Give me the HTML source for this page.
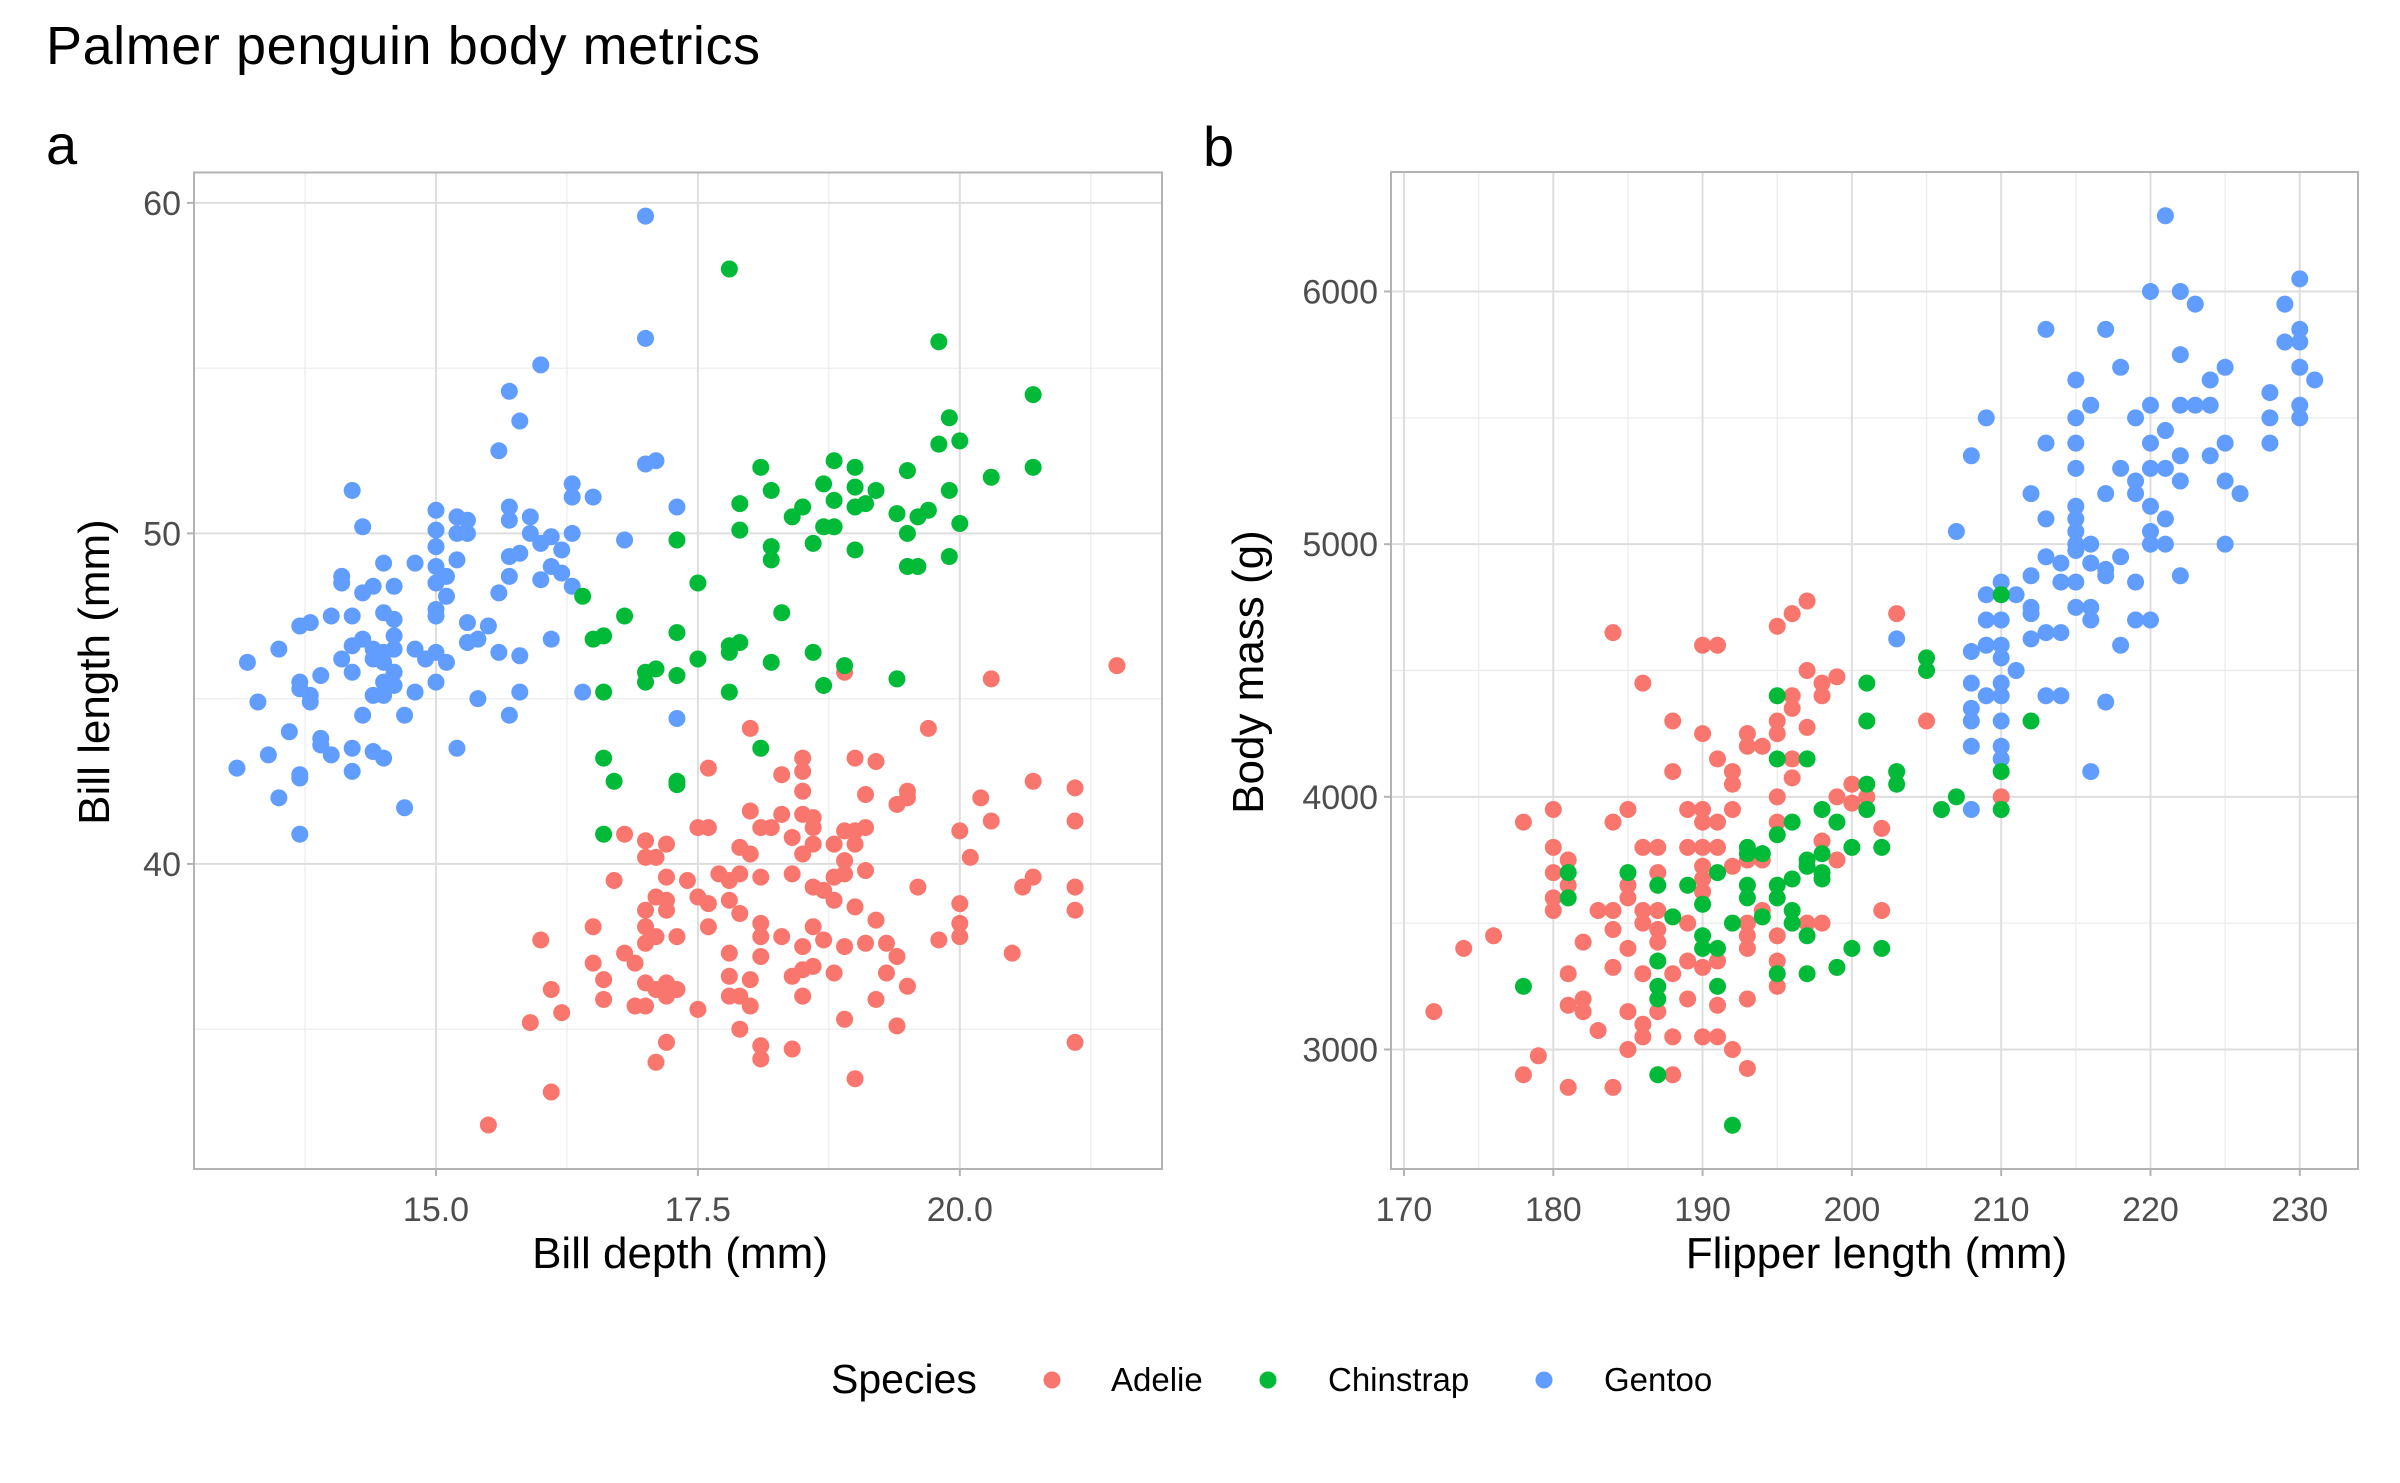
<!DOCTYPE html>
<html><head><meta charset="utf-8"><title>Palmer penguin body metrics</title>
<style>html,body{margin:0;padding:0;background:#fff}svg{display:block}text{font-family:"Liberation Sans",Arial,sans-serif}</style>
</head><body>
<svg id="chart" width="2400" height="1483" viewBox="0 0 2400 1483" xmlns="http://www.w3.org/2000/svg">
<rect width="2400" height="1483" fill="#fff"/>
<text x="46" y="64" font-size="54" textLength="714" fill="#000">Palmer penguin body metrics</text>
<text x="46" y="164" font-size="56" fill="#000">a</text>
<text x="1203" y="166" font-size="56" fill="#000">b</text>
<g id="pa"></g>
<g id="pb"></g>
<g>
<text x="831" y="1393" font-size="41" fill="#000">Species</text>
<circle cx="1052" cy="1380" r="8.5" fill="#F8766D"/>
<text x="1111" y="1391" font-size="33" fill="#000">Adelie</text>
<circle cx="1268" cy="1380" r="8.5" fill="#00BA38"/>
<text x="1328" y="1391" font-size="33" fill="#000">Chinstrap</text>
<circle cx="1544" cy="1380" r="8.5" fill="#619CFF"/>
<text x="1604" y="1391" font-size="33" fill="#000">Gentoo</text>
</g>
</svg>
<script>
// ---- data: panel a (bill depth, bill length) ----
const adelieDepth = [21.5,20.3,18.9,19.7,18.0,17.6,18.5,18.5,18.3,19.0,19.2,20.7,21.1,18.5,19.1,19.5,19.5,19.4,20.2,18.0,18.3,18.5,18.6,17.5,17.6,18.1,18.2,18.6,18.9,19.1,19.0,20.3,21.1,20.0,18.4,18.8,19.0,18.6,16.8,17.0,17.2,17.9,18.0,17.0,17.1,18.5,18.9,20.1,19.1,17.7,17.8,17.9,18.1,18.4,18.8,18.9,17.2,17.4,16.7,20.7,20.6,18.6,18.7,19.6,21.1,17.5,17.6,17.8,17.1,17.2,18.8,19.0,20.0,21.1,17.0,17.2,17.9,19.2,16.5,17.0,17.6,18.1,18.6,20.0,17.1,17.3,18.1,18.3,18.7,16.0,19.8,20.0,17.0,18.5,18.9,19.1,19.3,16.8,17.8,18.1,19.4,20.5,16.5,16.9,18.6,18.5,16.6,17.8,18.0,18.4,18.8,19.3,17.0,17.2,17.1,17.3,17.2,19.5,16.1,16.6,17.8,17.9,18.5,19.2,16.9,17.0,17.5,18.0,16.2,15.9,18.9,19.4,17.9,17.2,18.1,18.4,21.1,17.1,18.1,19.0,16.1,15.5];
const adelieLength = [46.0,45.6,45.8,44.1,44.1,42.9,43.2,42.8,42.7,43.2,43.1,42.5,42.3,42.2,42.1,42.2,42.0,41.8,42.0,41.6,41.5,41.5,41.4,41.1,41.1,41.1,41.1,41.1,41.0,41.1,41.0,41.3,41.3,41.0,40.8,40.6,40.6,40.6,40.9,40.7,40.6,40.5,40.3,40.2,40.2,40.3,40.1,40.2,39.8,39.7,39.5,39.7,39.6,39.7,39.6,39.7,39.6,39.5,39.5,39.6,39.3,39.3,39.2,39.3,39.3,39.0,38.8,38.9,39.0,38.9,38.9,38.7,38.8,38.6,38.6,38.6,38.5,38.3,38.1,38.1,38.1,38.2,38.1,38.2,37.8,37.8,37.8,37.8,37.7,37.7,37.7,37.8,37.6,37.5,37.5,37.6,37.6,37.3,37.3,37.2,37.2,37.3,37.0,37.0,36.9,36.8,36.5,36.6,36.5,36.6,36.7,36.7,36.4,36.4,36.2,36.2,36.0,36.3,36.2,35.9,36.0,36.0,36.0,35.9,35.7,35.7,35.6,35.7,35.5,35.2,35.3,35.1,35.0,34.6,34.5,34.4,34.6,34.0,34.1,33.5,33.1,32.1];
const chinDepth = [17.8,19.8,20.7,19.9,20.0,19.8,18.1,18.8,19.0,19.5,20.7,20.3,18.2,18.7,19.0,19.2,19.9,17.9,18.5,18.8,19.0,19.1,18.4,19.4,19.6,19.7,17.9,18.7,18.8,19.5,20.0,17.3,18.6,18.2,18.2,19.0,19.5,19.6,19.9,17.5,16.4,18.3,16.8,17.3,16.5,16.6,17.9,17.8,17.8,18.6,17.5,18.2,18.9,18.7,17.1,17.0,17.0,17.3,19.4,16.6,17.8,18.1,16.6,16.7,17.3,17.3,16.6];
const chinLength = [58.0,55.8,54.2,53.5,52.8,52.7,52.0,52.2,52.0,51.9,52.0,51.7,51.3,51.5,51.4,51.3,51.3,50.9,50.8,51.0,50.8,50.9,50.5,50.6,50.5,50.7,50.1,50.2,50.2,50.0,50.3,49.8,49.7,49.6,49.2,49.5,49.0,49.0,49.3,48.5,48.1,47.6,47.5,47.0,46.8,46.9,46.7,46.6,46.4,46.4,46.2,46.1,46.0,45.4,45.9,45.8,45.5,45.7,45.6,45.2,45.2,43.5,43.2,42.5,42.5,42.4,40.9];
const gentooDepth = [17.0,17.0,16.0,15.7,15.8,15.6,17.0,17.1,14.2,16.3,16.3,16.5,15.0,15.2,15.3,15.7,15.7,15.9,14.3,15.0,15.2,15.3,17.3,16.3,15.9,16.1,16.0,16.2,16.8,15.0,15.2,15.7,15.8,14.5,14.8,15.0,16.1,16.2,14.1,14.1,15.1,15.7,16.0,16.3,14.4,14.3,14.6,15.1,15.0,15.6,15.0,15.0,13.7,13.8,14.0,14.2,14.5,14.6,15.3,15.5,16.1,15.4,15.3,13.5,14.3,14.2,14.4,14.5,14.4,14.5,14.6,14.6,14.8,14.9,15.0,15.1,15.6,15.8,13.2,14.1,13.9,13.7,13.7,13.8,13.8,14.2,14.6,14.5,14.6,14.4,14.5,15.0,14.8,15.8,15.4,13.3,16.4,14.3,14.7,15.7,17.3,13.6,13.9,13.9,14.0,13.4,14.2,14.4,14.5,15.2,13.1,14.2,13.7,13.7,13.5,14.7,13.7];
const gentooLength = [59.6,55.9,55.1,54.3,53.4,52.5,52.1,52.2,51.3,51.5,51.1,51.1,50.7,50.5,50.4,50.8,50.4,50.5,50.2,50.1,50.0,50.0,50.8,50.0,50.0,49.9,49.7,49.5,49.8,49.6,49.2,49.3,49.4,49.1,49.1,49.0,49.0,48.8,48.7,48.5,48.7,48.7,48.6,48.4,48.4,48.2,48.4,48.1,48.5,48.2,47.7,47.5,47.2,47.3,47.5,47.5,47.6,47.4,47.3,47.2,46.8,46.8,46.7,46.5,46.8,46.6,46.5,46.4,46.2,46.1,46.5,46.9,46.5,46.2,46.4,46.1,46.4,46.3,46.1,46.2,45.7,45.5,45.3,45.1,44.9,45.8,45.8,45.5,45.4,45.1,45.1,45.5,45.2,45.2,45.0,44.9,45.2,44.5,44.5,44.5,44.4,44.0,43.8,43.6,43.3,43.3,43.5,43.4,43.2,43.5,42.9,42.8,42.7,42.6,42.0,41.7,40.9];
// ---- data: panel b (flipper length, body mass) ----
const adelieFlipper = [197,196,195,203,184,190,191,186,197,199,198,196,198,196,195,205,188,190,193,195,193,194,197,191,196,192,192,188,196,200,199,200,201,195,210,180,185,189,190,192,178,184,190,191,195,202,180,186,187,189,190,191,198,181,193,194,199,190,192,180,187,190,185,181,180,185,190,180,183,184,186,187,194,202,186,189,193,197,198,184,187,193,195,176,187,182,174,185,193,189,191,195,184,190,181,186,188,195,182,189,193,181,191,172,182,185,187,186,183,186,188,190,191,185,192,179,193,178,188,181,184];
const adelieMass = [4775,4725,4675,4725,4650,4600,4600,4450,4500,4475,4450,4400,4400,4350,4300,4300,4300,4250,4250,4250,4200,4200,4275,4150,4150,4100,4050,4100,4075,4050,4000,3975,4000,4000,4000,3950,3950,3950,3950,3950,3900,3900,3900,3900,3900,3875,3800,3800,3800,3800,3800,3800,3825,3750,3750,3750,3750,3725,3725,3700,3700,3675,3650,3650,3600,3600,3625,3550,3550,3550,3550,3550,3550,3550,3500,3500,3500,3500,3500,3475,3475,3450,3450,3450,3425,3425,3400,3400,3400,3350,3350,3350,3325,3325,3300,3300,3300,3250,3200,3200,3200,3175,3175,3150,3150,3150,3150,3100,3075,3050,3050,3050,3050,3000,3000,2975,2925,2900,2900,2850,2850];
const chinFlipper = [210,205,205,201,195,201,212,195,197,203,203,201,210,207,206,210,198,201,196,199,195,193,200,202,193,194,198,197,197,191,185,181,198,198,196,187,189,193,195,181,193,195,190,196,188,194,192,196,190,197,190,191,200,202,187,199,195,197,178,187,191,187,187,192];
const chinMass = [4800,4550,4500,4450,4400,4300,4300,4150,4150,4100,4050,4050,4100,4000,3950,3950,3950,3950,3900,3900,3850,3800,3800,3800,3775,3775,3775,3750,3725,3700,3700,3700,3700,3675,3675,3650,3650,3650,3650,3600,3600,3600,3575,3550,3525,3525,3500,3500,3450,3450,3400,3400,3400,3400,3350,3325,3300,3300,3250,3250,3250,3200,2900,2700];
const gentooFlipper = [221,230,220,222,223,229,213,217,230,229,230,222,218,225,230,215,224,231,228,216,220,222,223,224,230,209,215,219,228,230,221,213,215,220,225,228,208,222,224,215,218,220,221,219,222,225,212,217,219,226,220,215,213,215,221,207,215,220,215,216,220,221,225,215,213,218,214,216,217,217,212,222,210,214,215,219,209,211,212,215,216,212,209,210,216,219,220,213,214,203,212,209,210,218,208,210,211,208,210,209,210,213,214,217,208,208,210,208,210,210,216,208];
const gentooMass = [6300,6050,6000,6000,5950,5950,5850,5850,5850,5800,5800,5750,5700,5700,5700,5650,5650,5650,5600,5550,5550,5550,5550,5550,5550,5500,5500,5500,5500,5500,5450,5400,5400,5400,5400,5400,5350,5350,5350,5300,5300,5300,5300,5250,5250,5250,5200,5200,5200,5200,5150,5150,5100,5100,5100,5050,5050,5050,5000,5000,5000,5000,5000,4975,4950,4950,4925,4925,4900,4875,4875,4875,4850,4850,4850,4850,4800,4800,4750,4750,4750,4725,4700,4700,4700,4700,4700,4650,4650,4625,4625,4600,4600,4600,4575,4550,4500,4450,4450,4400,4400,4400,4400,4375,4350,4300,4300,4200,4200,4150,4100,3950];
// ---- ticks ----
const aXTicks = [15.0, 17.5, 20.0];
const aXTickLabels = ["15.0", "17.5", "20.0"];
const aXMinor = [13.75, 16.25, 18.75, 21.25];
const aYTicks = [40, 50, 60];
const aYMinor = [35, 45, 55];
const bXTicks = [170, 180, 190, 200, 210, 220, 230];
const bXMinor = [175, 185, 195, 205, 215, 225];
const bYTicks = [3000, 4000, 5000, 6000];
const bYMinor = [3500, 4500, 5500];

const NS = "http://www.w3.org/2000/svg";
const COL = {adelie: "#F8766D", chinstrap: "#00BA38", gentoo: "#619CFF"};
function mk(tag, attrs, parent) {
  const e = document.createElementNS(NS, tag);
  for (const k in attrs) e.setAttribute(k, attrs[k]);
  parent.appendChild(e);
  return e;
}
function panel(g, box, xDom, yDom, xMaj, xMin, yMaj, yMin, xLab, xTitle, yTitle, yTitleX, series, key) {
  const sx = v => box.l + (v - xDom[0]) / (xDom[1] - xDom[0]) * (box.r - box.l);
  const sy = v => box.b - (v - yDom[0]) / (yDom[1] - yDom[0]) * (box.b - box.t);
  xMin.forEach(v => {
    const l = mk("line", {x1: sx(v), x2: sx(v), y1: box.t, y2: box.b, stroke: "#EBEBEB", "stroke-width": 1.2}, g);
    
    
  });
  yMin.forEach(v => {
    const l = mk("line", {x1: box.l, x2: box.r, y1: sy(v), y2: sy(v), stroke: "#EBEBEB", "stroke-width": 1.2}, g);
    
    
  });
  xMaj.forEach((v, i) => {
    const l = mk("line", {x1: sx(v), x2: sx(v), y1: box.t, y2: box.b, stroke: "#DEDEDE", "stroke-width": 2}, g);
    
    
    const t = mk("line", {x1: sx(v), x2: sx(v), y1: box.b, y2: box.b + 7, stroke: "#B3B3B3", "stroke-width": 2}, g);
    
    
    const tx = mk("text", {x: sx(v), y: box.b + 52, "font-size": 34, fill: "#4D4D4D", "text-anchor": "middle"}, g);
    tx.textContent = xLab[i];
    
    
  });
  yMaj.forEach(v => {
    const l = mk("line", {x1: box.l, x2: box.r, y1: sy(v), y2: sy(v), stroke: "#DEDEDE", "stroke-width": 2}, g);
    
    
    const t = mk("line", {x1: box.l - 7, x2: box.l, y1: sy(v), y2: sy(v), stroke: "#B3B3B3", "stroke-width": 2}, g);
    
    
    const tx = mk("text", {x: box.l - 13, y: sy(v) + 12, "font-size": 34, fill: "#4D4D4D", "text-anchor": "end"}, g);
    tx.textContent = String(v);
    
    
  });
  series.forEach(s => {
    const n = Math.min(s.x.length, s.y.length);
    for (let i = 0; i < n; i++) {
      const c = mk("circle", {cx: sx(s.x[i]), cy: sy(s.y[i]), r: 8.5, fill: s.c}, g);
      
      
    }
  });
  const fr = mk("rect", {x: box.l, y: box.t, width: box.r - box.l, height: box.b - box.t, fill: "none", stroke: "#B3B3B3", "stroke-width": 2}, g);
  
  
  const xt = mk("text", {x: (box.l + box.r) / 2 + 2, y: 1268, "font-size": 44, fill: "#000", "text-anchor": "middle"}, g);
  xt.textContent = xTitle;
  
  
  const cy = 672;
  const yt = mk("text", {x: yTitleX, y: cy, "font-size": 44, fill: "#000", "text-anchor": "middle", transform: "rotate(-90 " + yTitleX + " " + cy + ")"}, g);
  yt.textContent = yTitle;
  
  
}
panel(document.getElementById("pa"), {l: 194, r: 1162, t: 172.5, b: 1169}, [12.69, 21.93], [30.77, 60.92],
  aXTicks, aXMinor, aYTicks, aYMinor, aXTickLabels, "Bill depth (mm)", "Bill length (mm)", 109,
  [{x: adelieDepth, y: adelieLength, c: COL.adelie, n: "adelie"},
   {x: gentooDepth, y: gentooLength, c: COL.gentoo, n: "gentoo"},
   {x: chinDepth, y: chinLength, c: COL.chinstrap, n: "chinstrap"}], "panel-a");
panel(document.getElementById("pb"), {l: 1391, r: 2358, t: 172, b: 1169}, [169.13, 233.9], [2527, 6473],
  bXTicks, bXMinor, bYTicks, bYMinor, bXTicks.map(String), "Flipper length (mm)", "Body mass (g)", 1263,
  [{x: adelieFlipper, y: adelieMass, c: COL.adelie, n: "adelie"},
   {x: gentooFlipper, y: gentooMass, c: COL.gentoo, n: "gentoo"},
   {x: chinFlipper, y: chinMass, c: COL.chinstrap, n: "chinstrap"}], "panel-b");
</script>
</body></html>
